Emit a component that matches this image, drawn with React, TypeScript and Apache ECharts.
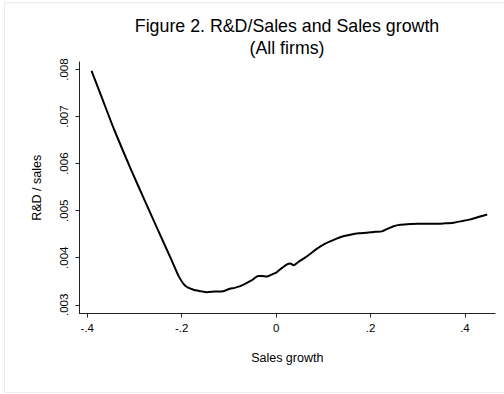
import React, { useEffect, useRef } from "react";
import * as echarts from "echarts";

const titleLines = ["Figure 2. R&D/Sales and Sales growth", "(All firms)"];
const xAxisTitle = "Sales growth";
const yAxisTitle = "R&D / sales";

const xTicks = [-0.4, -0.2, 0, 0.2, 0.4];
const yTicks = [0.003, 0.004, 0.005, 0.006, 0.007, 0.008];

const growth = [
  -0.391, -0.371, -0.343, -0.306, -0.278, -0.25, -0.221, -0.207, -0.193, -0.175,
  -0.16, -0.147, -0.13, -0.112, -0.098, -0.088, -0.076, -0.069, -0.052, -0.038,
  -0.03, -0.02, -0.01, 0.001, 0.012, 0.023, 0.03, 0.037, 0.047, 0.058,
  0.072, 0.086, 0.104, 0.122, 0.14, 0.157, 0.175, 0.192, 0.21, 0.224,
  0.237, 0.249, 0.263, 0.277, 0.3, 0.334, 0.355, 0.376, 0.395, 0.4115,
  0.43, 0.447,
];
const rdSales = [
  0.00797, 0.00745, 0.00672, 0.00584, 0.00521, 0.00458, 0.00394, 0.00362, 0.00341, 0.00332,
  0.00329, 0.003268, 0.00328, 0.003289, 0.00334, 0.00336, 0.003396, 0.00343, 0.00352, 0.00361,
  0.00361, 0.0036, 0.00364, 0.00369, 0.00378, 0.00386, 0.00388, 0.00384, 0.00391, 0.00398,
  0.00408, 0.00419, 0.0043, 0.00438, 0.00445, 0.00449, 0.00452, 0.00453, 0.00455, 0.00456,
  0.00462, 0.00467, 0.0047, 0.00471, 0.00472, 0.00472, 0.00473, 0.004745, 0.00478, 0.004815,
  0.00487, 0.00492,
];

const fmt = (v: number) => {
  if (Math.abs(v) < 1e-12) return "0";
  const s = String(+v.toFixed(4));
  return s.replace("0.", ".");
};

const FONT = "'Liberation Sans', Arial, Helvetica, sans-serif";

export default function App() {
  const ref = useRef<HTMLDivElement>(null);
  useEffect(() => {
    if (!ref.current) return;
    const chart = echarts.init(ref.current, null, { renderer: "svg" });
    const data = growth.map((g, i) => [g, rdSales[i]]);
    chart.setOption({
      animation: false,
      backgroundColor: "#ffffff",
      textStyle: { fontFamily: FONT },
      grid: {
        left: 79.5,
        right: 9,
        top: 62,
        bottom: 80.5,
        containLabel: false,
        outerBoundsMode: "none",
      },
      graphic: [
        {
          type: "rect",
          shape: { x: 4.5, y: 2.5, width: 502, height: 390 },
          style: { fill: "none", stroke: "#e6eeec", lineWidth: 1 },
          silent: true,
        },
        {
          type: "text",
          x: 287,
          y: 25.5,
          style: {
            text: titleLines[0],
            fontSize: 17.8,
            fontFamily: FONT,
            fill: "#000",
            align: "center",
            verticalAlign: "middle",
          },
        },
        {
          type: "text",
          x: 287,
          y: 48,
          style: {
            text: titleLines[1],
            fontSize: 17.8,
            fontFamily: FONT,
            fill: "#000",
            align: "center",
            verticalAlign: "middle",
          },
        },
      ],
      xAxis: {
        type: "value",
        min: -0.4165,
        max: 0.4636,
        name: xAxisTitle,
        nameLocation: "middle",
        nameGap: 38,
        nameTextStyle: { fontSize: 12.5, color: "#000", fontFamily: FONT },
        axisLine: { show: true, onZero: false, lineStyle: { color: "#222", width: 1 } },
        axisTick: {
          show: true,
          length: 4,
          customValues: xTicks,
          lineStyle: { color: "#222" },
        },
        axisLabel: {
          customValues: xTicks,
          formatter: (v: number) => fmt(v),
          fontSize: 11.5,
          color: "#000",
          margin: 8,
          fontFamily: FONT,
        },
        splitLine: { show: false },
      },
      yAxis: {
        type: "value",
        min: 0.002815,
        max: 0.00816,
        name: yAxisTitle,
        nameLocation: "middle",
        nameGap: 36,
        nameTextStyle: { fontSize: 12.5, color: "#000", fontFamily: FONT },
        axisLine: { show: true, onZero: false, lineStyle: { color: "#222", width: 1 } },
        axisTick: {
          show: true,
          length: 4,
          customValues: yTicks,
          lineStyle: { color: "#222" },
        },
        axisLabel: {
          customValues: yTicks,
          formatter: (v: number) => fmt(v),
          fontSize: 11.5,
          color: "#000",
          rotate: 90,
          margin: 10,
          fontFamily: FONT,
        },
        splitLine: { show: false },
      },
      series: [
        {
          type: "line",
          data,
          showSymbol: false,
          smooth: 0.2,
          lineStyle: { color: "#000", width: 2 },
          silent: true,
        },
      ],
    });
    return () => chart.dispose();
  }, []);
  return (
    <div
      ref={ref}
      style={{ position: "fixed", left: 0, top: 0, width: 504, height: 394 }}
    />
  );
}
